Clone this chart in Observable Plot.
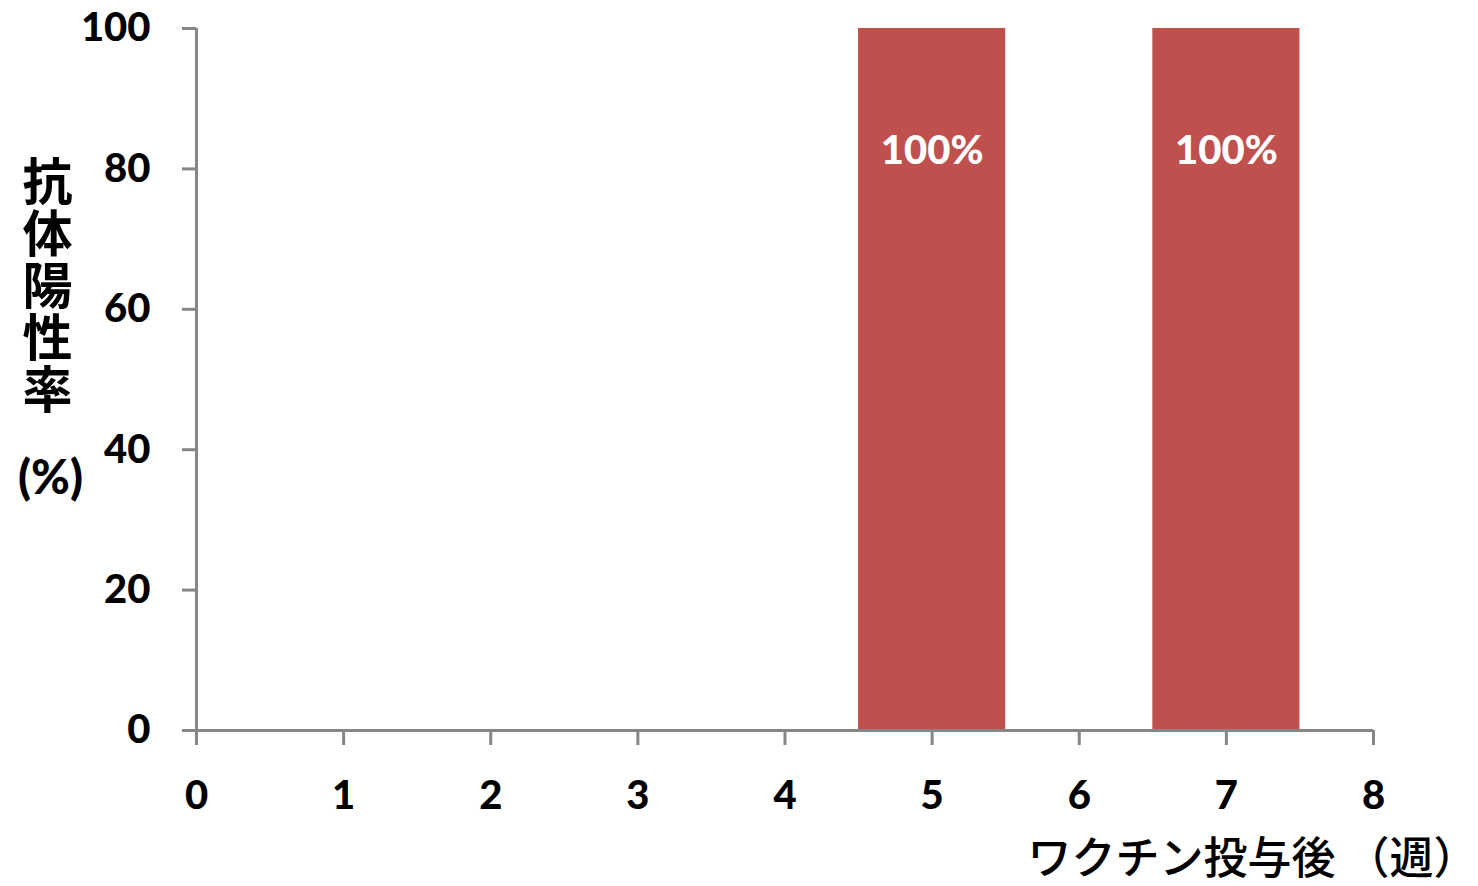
<!DOCTYPE html>
<html>
<head>
<meta charset="utf-8">
<script src="https://cdn.jsdelivr.net/npm/d3@7"></script>
<script src="https://cdn.jsdelivr.net/npm/@observablehq/plot@0.6"></script>
<style>
  html, body { margin: 0; padding: 0; background: #fff; }
  #chart svg { display: block; }
</style>
</head>
<body>
<div id="chart"></div>
<script>
// Data
const weeks = [5, 7];
const rates = [100, 100];
const barLabels = ["100%", "100%"];
const xTicks = [0, 1, 2, 3, 4, 5, 6, 7, 8];
const yTicks = [0, 20, 40, 60, 80, 100];
const yTitle = "抗体陽性率";
const yUnit = "(%)";
const xTitle = "ワクチン投与後 （週）";

const data = weeks.map((w, i) => ({week: w, rate: rates[i], label: barLabels[i]}));

const axisColor = "#868686";
const barColor = "#C0504D";
const numFont = "Lato, 'Open Sans', sans-serif";
const cjkFont = "'Noto Sans CJK JP', sans-serif";

const chart = Plot.plot({
  width: 1478,
  height: 886,
  marginLeft: 196,
  marginRight: 105,
  marginTop: 28,
  marginBottom: 156,
  style: {background: "#fff", overflow: "visible"},
  x: {type: "linear", domain: [0, 8]},
  y: {domain: [0, 100]},
  marks: [
    Plot.rectY(data, {
      x1: d => d.week - 0.5,
      x2: d => d.week + 0.5,
      y1: 0,
      y2: "rate",
      fill: barColor
    }),
    Plot.text(data, {
      x: "week",
      y: "rate",
      text: "label",
      dy: 123,
      fill: "white",
      fontSize: 40,
      fontWeight: 900,
      fontFamily: numFont
    }),
    Plot.axisY({
      ticks: yTicks,
      tickSize: 14,
      tickPadding: 32,
      stroke: axisColor,
      strokeWidth: 3,
      strokeOpacity: 1,
      fill: "black",
      fontSize: 40,
      fontWeight: 900,
      fontFamily: numFont,
      label: null
    }),
    Plot.axisX({
      ticks: xTicks,
      tickSize: 15,
      tickPadding: 35,
      stroke: axisColor,
      strokeWidth: 3,
      strokeOpacity: 1,
      fill: "black",
      fontSize: 40,
      fontWeight: 900,
      fontFamily: numFont,
      tickFormat: d3.format("d"),
      label: null
    }),
    Plot.ruleY([0], {stroke: axisColor, strokeWidth: 3}),
    Plot.ruleX([0], {stroke: axisColor, strokeWidth: 3}),
    Plot.text([yTitle], {
      frameAnchor: "left",
      text: d => d,
      dx: -149,
      dy: -110,
      textAnchor: "middle",
      lineAnchor: "middle",
      fontSize: 50,
      fontWeight: "bold",
      fontFamily: cjkFont,
      fill: "black"
    }),
    Plot.text([yUnit], {
      frameAnchor: "left",
      text: d => d,
      dx: -146,
      dy: 99,
      textAnchor: "middle",
      lineAnchor: "middle",
      fontSize: 47,
      fontWeight: 900,
      fontFamily: numFont,
      fill: "black"
    }),
    Plot.text([xTitle], {
      frameAnchor: "bottom-right",
      text: d => d,
      dx: 104,
      dy: 129,
      textAnchor: "end",
      lineAnchor: "middle",
      fontSize: 44,
      fontWeight: 500,
      fontFamily: cjkFont,
      fill: "black"
    })
  ]
});

// Set the y-axis title in vertical writing mode (characters stacked top to bottom)
d3.select(chart).selectAll("text")
  .filter(function () { return this.textContent === yTitle; })
  .attr("dy", null)
  .style("writing-mode", "vertical-rl")
  .style("text-orientation", "upright")
  .style("letter-spacing", "2px");

document.getElementById("chart").appendChild(chart);
</script>
</body>
</html>
